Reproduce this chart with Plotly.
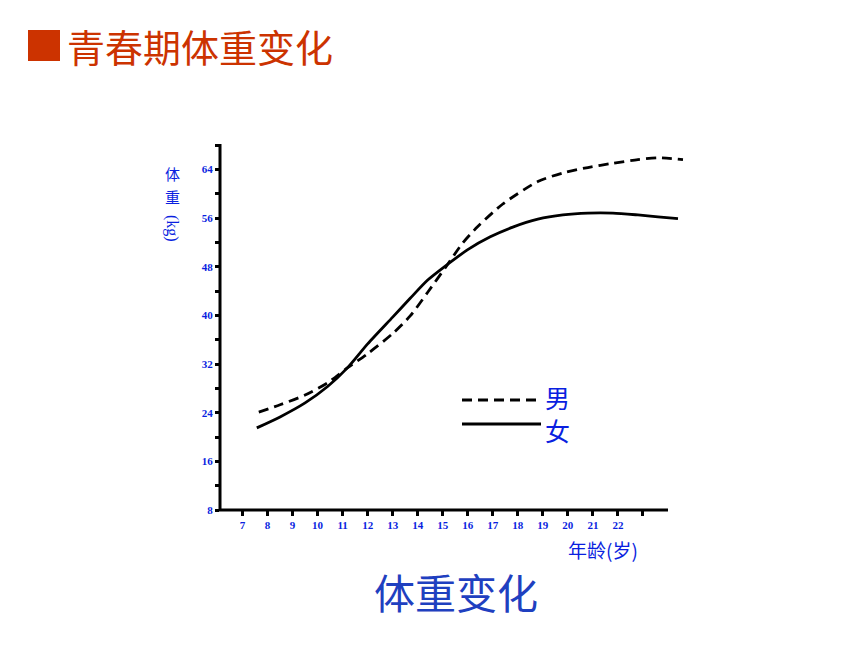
import plotly.graph_objects as go

# ---- data ----
age_male = [7.65, 8.5, 9.5, 10.4, 11.2, 12.0, 13.0, 13.7, 14.4, 15.2, 15.8, 16.4, 17.4, 18.8, 19.8, 20.8, 21.8, 22.8, 23.6, 24.6]
wt_male = [24.1, 25.3, 26.9, 28.9, 31.4, 33.7, 37.0, 39.9, 43.8, 48.4, 51.9, 54.6, 58.3, 62.0, 63.4, 64.3, 65.0, 65.6, 65.9, 65.6]
age_female = [7.57, 8.5, 9.5, 10.4, 11.2, 12.0, 13.0, 13.7, 14.4, 15.2, 16.0, 16.9, 17.8, 18.8, 19.8, 20.8, 21.8, 22.8, 23.6, 24.4]
wt_female = [21.5, 23.3, 25.6, 28.3, 31.4, 35.3, 39.7, 42.8, 45.8, 48.4, 50.8, 52.9, 54.5, 55.8, 56.5, 56.8, 56.8, 56.5, 56.2, 55.9]

x_tick_vals = list(range(7, 24))
x_tick_text = ["<b>%d</b>" % v for v in range(7, 23)] + [""]
y_tick_vals = list(range(8, 69, 4))
y_tick_text = ["<b>%d</b>" % v if v % 8 == 0 and v <= 64 else "" for v in y_tick_vals]

page_title = "青春期体重变化"
caption = "体重变化"
x_title = "年龄(岁)"
legend_names = ["男", "女"]

# ---- layout geometry (page has an 8px body margin) ----
W, H = 860, 645
OFF = 8
L, R, T, B = 212, 180, 137, 143
PW, PH = W - L - R, H - T - B

def px(xp):
    return (xp - OFF - L) / PW

def py(yp):
    return (H - B - (yp - OFF)) / PH

BLUE = "#0a1fe0"
CAP_BLUE = "#1f40c0"
RED = "#cc3300"

fig = go.Figure()
fig.add_trace(go.Scatter(x=age_male, y=wt_male, mode="lines", name=legend_names[0],
                         line=dict(color="black", width=2.8, dash="10px,6px", shape="spline", smoothing=0.7),
                         showlegend=False))
fig.add_trace(go.Scatter(x=age_female, y=wt_female, mode="lines", name=legend_names[1],
                         line=dict(color="black", width=2.8, shape="spline", smoothing=0.7),
                         showlegend=False))

tickfont = dict(family="Liberation Serif", size=11, color=BLUE)
fig.update_xaxes(range=[6.1, 24.8], tickmode="array", tickvals=x_tick_vals, ticktext=x_tick_text,
                 ticks="outside", ticklen=5, tickwidth=2.5, tickcolor="black",
                 showgrid=False, zeroline=False, showline=False, tickfont=tickfont)
fig.update_yaxes(range=[8, 68], tickmode="array", tickvals=y_tick_vals, ticktext=y_tick_text,
                 ticks="outside", ticklen=4, tickwidth=2.5, tickcolor="black",
                 showgrid=False, zeroline=False, showline=False, tickfont=tickfont)

shapes = [
    # axes lines
    dict(type="line", xref="paper", yref="paper", x0=px(220), x1=px(220), y0=py(510), y1=py(144),
         line=dict(color="black", width=3)),
    dict(type="line", xref="paper", yref="paper", x0=px(219), x1=px(668), y0=py(510), y1=py(510),
         line=dict(color="black", width=3)),
    # legend samples
    dict(type="line", xref="paper", yref="paper", x0=px(462), x1=px(541), y0=py(400), y1=py(400),
         line=dict(color="black", width=2.8, dash="10px,6px")),
    dict(type="line", xref="paper", yref="paper", x0=px(462), x1=px(541), y0=py(424), y1=py(424),
         line=dict(color="black", width=2.8)),
    # red square in header
    dict(type="rect", xref="paper", yref="paper", x0=px(28), x1=px(60), y0=py(30), y1=py(61),
         fillcolor=RED, line=dict(width=0)),
]

CJK = "Noto Sans CJK SC"
annotations = [
    dict(text=page_title, x=px(65), y=py(46), xref="paper", yref="paper", xanchor="left", yanchor="middle",
         showarrow=False, font=dict(family=CJK, size=38, color=RED)),
    dict(text=caption, x=px(456), y=py(591), xref="paper", yref="paper", xanchor="center", yanchor="middle",
         showarrow=False, font=dict(family=CJK, size=41, color=CAP_BLUE)),
    dict(text=x_title, x=px(603), y=py(549), xref="paper", yref="paper", xanchor="center", yanchor="middle",
         showarrow=False, font=dict(family=CJK, size=19, color=BLUE)),
    dict(text=legend_names[0], x=px(543), y=py(397), xref="paper", yref="paper", xanchor="left", yanchor="middle",
         showarrow=False, font=dict(family=CJK, size=25, color=BLUE)),
    dict(text=legend_names[1], x=px(543), y=py(430), xref="paper", yref="paper", xanchor="left", yanchor="middle",
         showarrow=False, font=dict(family=CJK, size=25, color=BLUE)),
    dict(text="体", x=px(172), y=py(173), xref="paper", yref="paper", xanchor="center", yanchor="middle",
         showarrow=False, font=dict(family=CJK, size=15, color=BLUE)),
    dict(text="重", x=px(172), y=py(196), xref="paper", yref="paper", xanchor="center", yanchor="middle",
         showarrow=False, font=dict(family=CJK, size=15, color=BLUE)),
    dict(text="(kg)", x=px(172), y=py(228), xref="paper", yref="paper", xanchor="center", yanchor="middle",
         textangle=90, showarrow=False, font=dict(family="Liberation Serif", size=16, color=BLUE)),
]

fig.update_layout(width=W, height=H, margin=dict(l=L, r=R, t=T, b=B, autoexpand=False),
                  plot_bgcolor="white", paper_bgcolor="white",
                  shapes=shapes, annotations=annotations, showlegend=False)

fig.write_html("out.html")
